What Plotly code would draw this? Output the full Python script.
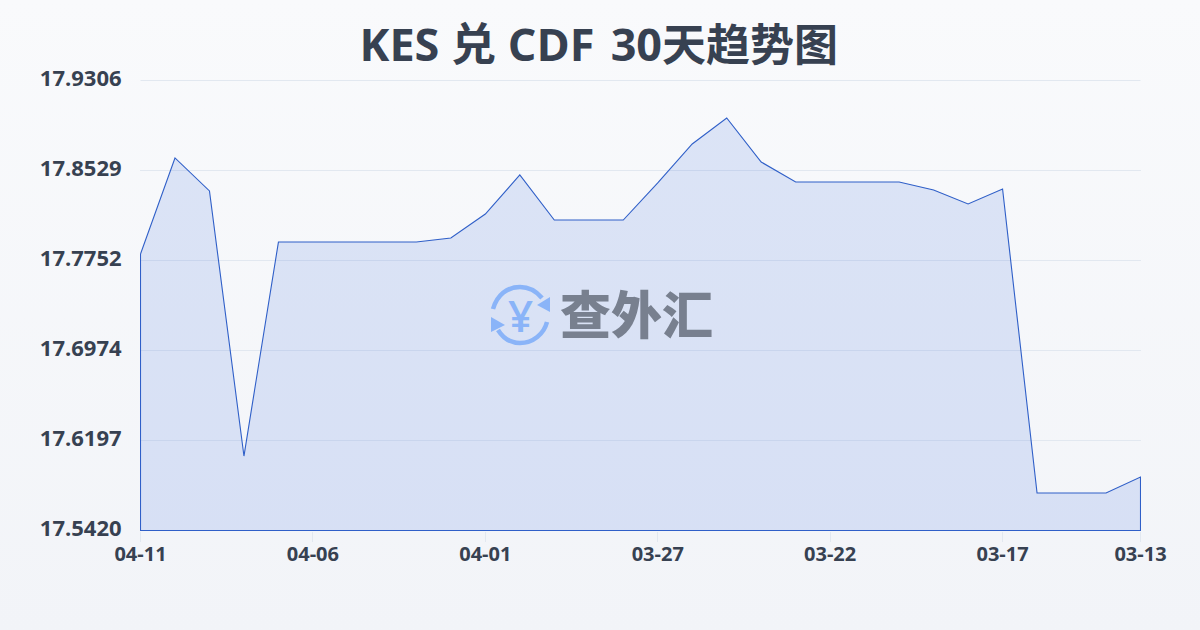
import plotly.graph_objects as go

dates = ["04-11","04-10","04-09","04-08","04-07","04-06","04-05","04-04","04-03","04-02",
         "04-01","03-31","03-30","03-29","03-28","03-27","03-26","03-25","03-24","03-23",
         "03-22","03-21","03-20","03-19","03-18","03-17","03-16","03-15","03-14","03-13"]
rates = [17.7808,17.8637,17.8352,17.6063,17.7911,17.7911,17.7911,17.7911,17.7911,17.7946,
         17.8153,17.8490,17.8101,17.8101,17.8101,17.8421,17.8758,17.8982,17.8602,17.8429,
         17.8429,17.8429,17.8429,17.8360,17.8240,17.8369,17.5744,17.5744,17.5744,17.5882]
y_ticks = [17.5420,17.6197,17.6974,17.7752,17.8529,17.9306]
x_tick_idx = [0,5,10,15,20,25,29]
y_min, y_max = y_ticks[0], y_ticks[-1]

FONT = "'Open Sans','Noto Sans CJK SC',sans-serif"
TEXT = "#374151"
idx = list(range(len(dates)))
fig = go.Figure()
fig.add_trace(go.Scatter(
    x=idx + [idx[-1], idx[0], idx[0]],
    y=rates + [y_min, y_min, rates[0]],
    mode="lines", fill="toself",
    line=dict(color="#2f5fc8", width=1.1),
    fillcolor="rgba(59,110,220,0.15)",
    cliponaxis=False,
    hoverinfo="skip", showlegend=False))

# half-pixel padding so the outline lands crisply on the pixel grid
x_pad = 0.5 * (len(idx) - 1) / 1000
y_pad = 0.5 * (y_max - y_min) / 450

# watermark logo (decorative, pixel positioned relative to the plot area)
L, R, T, B = 140.0, 1141.0, 80.0, 531.0
def px(x): return (x - L) / (R - L)
def py(y): return (B - y) / (B - T)
icon_blue = "#8ab4f8"
shapes = [
    dict(type="line", xref="x", yref="y", x0=idx[0], x1=idx[-1], y0=y_max, y1=y_max,
         line=dict(color="#e2e8f0", width=1), layer="below"),
    dict(type="path", xref="paper", yref="paper", line=dict(color=icon_blue, width=4.5),
         path=f"M {px(493)} {py(309)} C {px(497)} {py(295)} {px(507)} {py(287)} {px(520)} {py(287)} C {px(530)} {py(287)} {px(537)} {py(292)} {px(542)} {py(298)}"),
    dict(type="path", xref="paper", yref="paper", line=dict(color=icon_blue, width=4.5),
         path=f"M {px(547)} {py(322)} C {px(544)} {py(334)} {px(533)} {py(343)} {px(520)} {py(343)} C {px(511)} {py(343)} {px(503)} {py(338)} {px(498)} {py(330)}"),
    dict(type="path", xref="paper", yref="paper", line_width=0, fillcolor=icon_blue,
         path=f"M {px(550)} {py(297)} L {px(550)} {py(312)} L {px(537)} {py(305)} Z"),
    dict(type="path", xref="paper", yref="paper", line_width=0, fillcolor=icon_blue,
         path=f"M {px(491)} {py(317)} L {px(505)} {py(325)} L {px(491)} {py(332)} Z"),
]
annots = [
    dict(text="¥", x=px(520), y=py(315), xref="paper", yref="paper", showarrow=False,
         font=dict(family=FONT, size=44, color=icon_blue, weight=600), xanchor="center", yanchor="middle"),
    dict(text="查外汇", x=px(636), y=py(312), xref="paper", yref="paper", showarrow=False,
         font=dict(family="Noto Sans CJK SC", size=51, color="#78808f", weight=900), xanchor="center", yanchor="middle"),
]

title_text = "KES 兑 CDF\u200a 30<span style='font-size:44px'>天趋势图</span>"
fig.update_layout(
    width=1200, height=630,
    margin=dict(l=140, r=59, t=80, b=99),
    paper_bgcolor="rgba(0,0,0,0)", plot_bgcolor="rgba(0,0,0,0)",
    title=dict(text=title_text, x=0.499, xanchor="center", y=0.928, yanchor="middle",
               font=dict(family=FONT, size=45, color=TEXT, weight=700)),
    xaxis=dict(range=[idx[0] - x_pad, idx[-1] + x_pad], tickmode="array", tickvals=x_tick_idx,
               ticktext=[dates[i] for i in x_tick_idx], showgrid=False, zeroline=False,
               ticks="outside", ticklen=10, tickcolor="#e2e8f0", tickwidth=1, showline=False,
               ticklabelstandoff=-5,
               tickfont=dict(family=FONT, size=20, color=TEXT, weight=700)),
    yaxis=dict(range=[y_min - y_pad, y_max + y_pad], tickmode="array", tickvals=y_ticks,
               ticktext=[f"{v:.4f}" for v in y_ticks], showgrid=True, gridcolor="#e2e8f0",
               gridwidth=1, zeroline=False, showline=False, ticks="outside", ticklen=13,
               ticklabelshift=-2,
               tickcolor="rgba(0,0,0,0)", tickfont=dict(family=FONT, size=22, color=TEXT, weight=700)),
    shapes=shapes, annotations=annots,
)
fig.write_html("out.html", config={"displayModeBar": False}, post_script=
    "document.documentElement.style.margin='0';document.body.style.margin='0';"
    "document.body.style.background='linear-gradient(180deg,#f9fafc 0%,#f2f4f8 100%)';"
    "document.body.style.height='630px';document.body.style.overflow='hidden';")
